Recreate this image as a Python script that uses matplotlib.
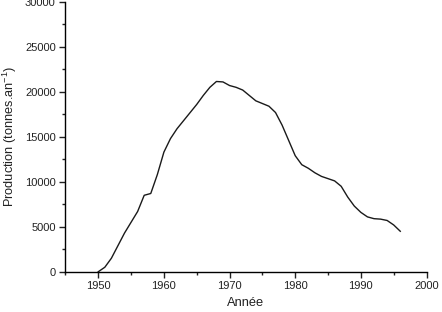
import matplotlib
matplotlib.use("Agg")
import matplotlib.pyplot as plt
from matplotlib.ticker import MultipleLocator

years = list(range(1950, 1997))
production = [0, 500, 1500, 2900, 4300, 5500, 6700, 8500, 8700, 10800,
              13300, 14800, 15900, 16800, 17700, 18600, 19600, 20500, 21150, 21100,
              20700, 20500, 20200, 19600, 19000, 18700, 18400, 17700, 16300, 14600,
              12900, 11900, 11500, 11000, 10600, 10350, 10100, 9500, 8300, 7300,
              6600, 6100, 5900, 5850, 5700, 5200, 4500]

plt.rcParams['font.family'] = ['Liberation Sans', 'DejaVu Sans']
plt.rcParams['mathtext.fontset'] = 'custom'
plt.rcParams['mathtext.rm'] = 'Liberation Sans'
plt.rcParams['mathtext.default'] = 'regular'

fig = plt.figure(figsize=(4.42, 3.12), dpi=100)
ax = fig.add_axes([0.148, 0.129, 0.817, 0.865])
ax.plot(years, production, color='#1a1a1a', lw=1.0)
ax.set_xlim(1945, 2000)
ax.set_ylim(0, 30000)
ax.xaxis.set_major_locator(MultipleLocator(10))
ax.xaxis.set_minor_locator(MultipleLocator(5))
ax.yaxis.set_major_locator(MultipleLocator(5000))
ax.yaxis.set_minor_locator(MultipleLocator(2500))
for s in ['top', 'right']:
    ax.spines[s].set_visible(False)
for s in ['left', 'bottom']:
    ax.spines[s].set_linewidth(1.0)
ax.tick_params(which='major', length=4, width=1, labelsize=8, direction='out', colors='#222222', pad=3)
ax.tick_params(which='minor', length=2.5, width=1, direction='out', colors='#222222')
ax.set_xlabel('Année', fontsize=9.3, color='#222222', labelpad=4)
ax.set_ylabel('Production (tonnes.an$^{-1}$)', fontsize=9.2, color='#222222', labelpad=4)
fig.savefig('out.png', dpi=100)
